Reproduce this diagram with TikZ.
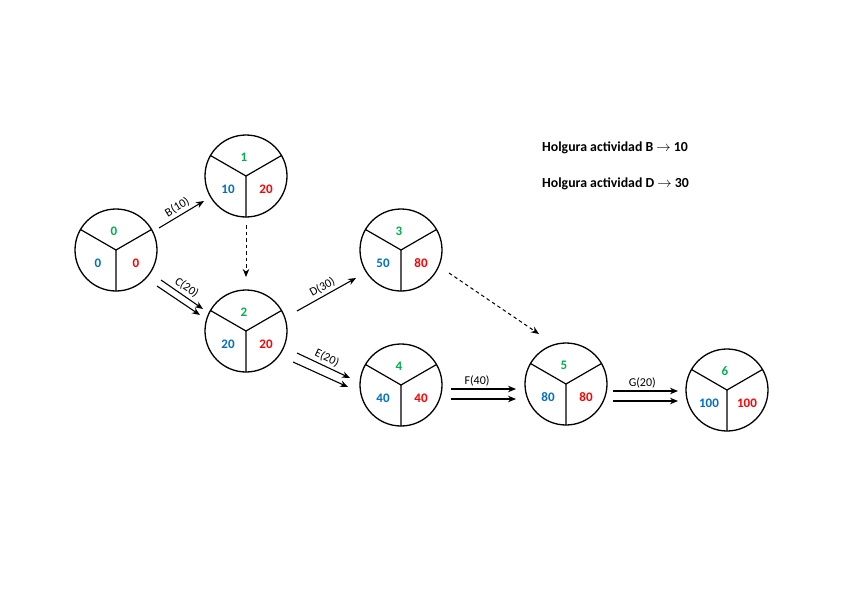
\documentclass[tikz,border=0pt]{standalone}
\usepackage{fontspec}
\setmainfont{Carlito}
\usetikzlibrary{calc,arrows.meta}
\definecolor{cgreen}{HTML}{00B050}
\definecolor{cblue}{HTML}{0070C0}
\definecolor{cred}{HTML}{FF0000}
\tikzset{
  evtc/.style={circle,draw,line width=1.3pt,minimum size=82pt,inner sep=0pt,outer sep=0pt},
  divl/.style={line width=1.2pt},
  numtxt/.style={font=\bfseries\fontsize{13}{15}\selectfont,inner sep=0pt},
  arr/.style={line width=1.1pt,-{Stealth[length=8pt,width=6.5pt]}},
  darr/.style={line width=1pt,dash pattern=on 3.5pt off 3pt,-{Stealth[length=8pt,width=6.5pt]}},
  lab/.style={font=\fontsize{12}{14}\selectfont,inner sep=2.5pt},
  note/.style={font=\bfseries\fontsize{13.8}{16}\selectfont,anchor=west,inner sep=0pt}
}
\newcommand\evtnode[6]{%
  \node[evtc] (#1) at (#2,#3) {};
  \draw[divl] (#1.center) -- (#1.30) (#1.center) -- (#1.150) (#1.center) -- (#1.270);
  \node[numtxt,text=cgreen] (#1g) at ($(#1)+(-2,-19)$) {#4};
  \node[numtxt,text=cblue] (#1b) at ($(#1)+(-18,13.5)$) {#5};
  \node[numtxt,text=cred] (#1r) at ($(#1)+(20,13.5)$) {#6};
}
\begin{document}
\begin{tikzpicture}[x=1pt,y=-1pt]
\useasboundingbox (0,0) rectangle (848,599);
\evtnode{n0}{116}{250}{0}{0}{0}
\evtnode{n1}{246}{176}{1}{10}{20}
\evtnode{n2}{246}{331}{2}{20}{20}
\evtnode{n3}{401}{250}{3}{50}{80}
\evtnode{n4}{401}{385}{4}{40}{40}
\evtnode{n5}{566}{384}{5}{80}{80}
\evtnode{n6}{727}{390}{6}{100}{100}
% B
\draw[arr] ($(n0)+(43,-22)$) -- ($(n1)+(-42,25)$) node[lab,midway,above,sloped] {B(10)};
% C
\draw[arr] ($(n0)+(45,30)$) -- ($(n2)+(-43,-22)$) node[lab,midway,above,sloped] {C(20)};
\draw[arr] ($(n0)+(41,36)$) -- ($(n2)+(-46,-16)$);
% dummy 1-2
\draw[darr] ($(n1)+(0,49)$) -- ($(n2)+(0,-54)$);
% D
\draw[arr] ($(n2)+(51,-20)$) -- ($(n3)+(-45,28)$) node[lab,midway,above,sloped] {D(30)};
% E
\draw[arr] ($(n2)+(51,22)$) -- ($(n4)+(-51,-7)$) node[lab,midway,above,sloped] {E(20)};
\draw[arr] ($(n2)+(47,31)$) -- ($(n4)+(-53,2)$);
% dummy 3-5
\draw[darr] ($(n3)+(48,23)$) -- ($(n5)+(-27,-50)$);
% F
\draw[arr] ($(n4)+(50,4)$) -- ($(n5)+(-50,5)$) node[lab,pos=0.4,above] {F(40)};
\draw[arr] ($(n4)+(50,14)$) -- ($(n5)+(-50,15)$);
% G
\draw[arr] ($(n5)+(47,7)$) -- ($(n6)+(-49,1)$) node[lab,pos=0.45,above] {G(20)};
\draw[arr] ($(n5)+(47,17)$) -- ($(n6)+(-49,11)$);
% notes
\node[note] (h1) at (542,148) {Holgura actividad B $\rightarrow$ 10};
\node[note] (h2) at (542,184) {Holgura actividad D $\rightarrow$ 30};
\end{tikzpicture}
\end{document}
